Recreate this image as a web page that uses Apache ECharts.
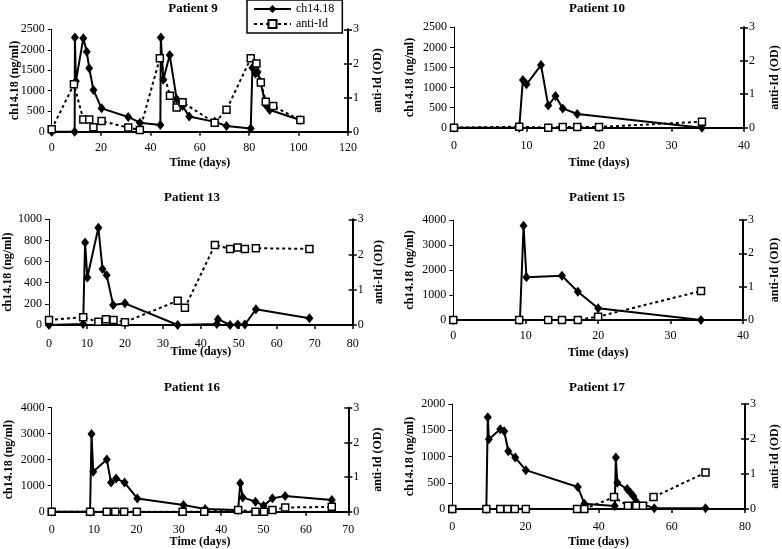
<!DOCTYPE html>
<html><head><meta charset="utf-8">
<script src="https://cdn.jsdelivr.net/npm/echarts@6/dist/echarts.min.js"></script>
<style>html,body{margin:0;padding:0;background:#fff}#c{width:782px;height:549px}</style>
</head><body><div id="c"></div>
<script>
// ---- data ----
const p9ChDays   = [0, 9.3, 9.4, 9.8, 12.8, 14.2, 15.2, 16.9, 20.2, 31, 35.7, 44.0, 44.2, 45.2, 47.8, 50.6, 53, 55.7, 66, 70.8, 80.6, 81.3, 82.5, 83.4, 84.5, 86.7, 88.3, 100.7];
const p9Ch       = [0, 0, 2300, 1230, 2280, 1950, 1550, 1020, 570, 360, 220, 165, 2300, 1270, 1870, 800, 630, 370, 240, 140, 80, 1560, 1420, 1460, 1220, 650, 530, 285];
const p9AntiDays = [0, 9, 12.8, 15.2, 16.9, 20.2, 31, 35.7, 43.8, 47.9, 50.6, 53, 66, 70.8, 80.6, 82.9, 84.7, 86.7, 89.7, 100.7];
const p9Anti     = [0.07, 1.39, 0.36, 0.36, 0.13, 0.31, 0.12, 0.05, 2.15, 1.05, 0.71, 0.86, 0.26, 0.64, 2.15, 2.0, 1.44, 0.88, 0.75, 0.34];

const p10ChDays   = [0, 9, 9.5, 10, 12, 13, 14, 15, 17, 34.2];
const p10Ch       = [0, 0, 1190, 1080, 1560, 550, 790, 480, 340, 0];
const p10AntiDays = [0, 9, 13, 15, 17, 20, 34.2];
const p10Anti     = [0, 0.03, 0, 0.02, 0.02, 0.02, 0.18];

const p13ChDays   = [0, 9, 9.5, 10.1, 13, 14.1, 15.2, 16.9, 20, 33.9, 44.2, 44.5, 47.7, 49.7, 51.6, 54.5, 68.6];
const p13Ch       = [0, 10, 780, 450, 920, 530, 470, 190, 205, 0, 10, 55, 0, 5, 5, 148, 63];
const p13AntiDays = [0, 9, 13, 15, 17, 20, 33.9, 35.8, 43.7, 47.7, 49.7, 51.6, 54.5, 68.6];
const p13Anti     = [0.14, 0.22, 0.09, 0.16, 0.14, 0.08, 0.69, 0.49, 2.27, 2.16, 2.2, 2.16, 2.18, 2.16];

const p15ChDays   = [0, 9.2, 9.7, 10.1, 15, 17.2, 20, 34.2];
const p15Ch       = [0, 0, 3770, 1710, 1770, 1130, 470, 0];
const p15AntiDays = [0, 9.1, 13.1, 15, 17.2, 20, 34.2];
const p15Anti     = [0, 0, 0, 0, 0, 0.1, 0.87];

const p16ChDays   = [0, 9.05, 9.4, 9.8, 13, 14, 15.2, 17.2, 20.2, 31.1, 36.2, 44, 44.5, 45.1, 48.1, 50, 52.1, 55.1, 66.1];
const p16Ch       = [0, 0, 2990, 1540, 2010, 1120, 1280, 1120, 510, 256, 103, 64, 1090, 550, 385, 230, 513, 603, 449];
const p16AntiDays = [0, 9.05, 13, 15, 17.1, 20.1, 30.9, 36, 44, 48.1, 50.1, 52.1, 55.1, 66.1];
const p16Anti     = [0, 0, 0, 0, 0, 0, 0, 0, 0.05, 0, 0, 0.05, 0.12, 0.14];

const p17ChDays   = [0, 9.3, 9.7, 10, 13.1, 14.2, 15.3, 17.2, 20.1, 34.3, 36.1, 44.4, 44.7, 45.1, 47.8, 48.7, 49.5, 50.3, 55.2, 69.2];
const p17Ch       = [0, 0, 1750, 1330, 1520, 1480, 1100, 980, 740, 420, 100, 55, 980, 500, 380, 310, 245, 140, 12, 12];
const p17AntiDays = [0, 9.3, 13.1, 15.1, 17.1, 20.1, 34.1, 36.1, 44.2, 48, 50.3, 52.1, 55, 69.2];
const p17Anti     = [0, 0, 0, 0, 0, 0, 0, 0, 0.34, 0.09, 0.09, 0.09, 0.34, 1.04];

const titles   = ['Patient 9', 'Patient 10', 'Patient 13', 'Patient 15', 'Patient 16', 'Patient 17'];
const xMaxes   = [120, 40, 80, 40, 70, 80];
const xSteps   = [20, 10, 10, 10, 10, 20];
const chMaxes  = [2500, 2500, 1000, 4000, 4000, 2000];
const chSteps  = [500, 500, 200, 1000, 1000, 500];
const antiMax  = 3, antiStep = 1;
const seriesNames = ['ch14.18', 'anti-Id'];
const xName = 'Time (days)', chName = 'ch14.18 (ng/ml)', antiName = 'anti-Id (OD)';

const chDays = [p9ChDays, p10ChDays, p13ChDays, p15ChDays, p16ChDays, p17ChDays];
const chVals = [p9Ch, p10Ch, p13Ch, p15Ch, p16Ch, p17Ch];
const anDays = [p9AntiDays, p10AntiDays, p13AntiDays, p15AntiDays, p16AntiDays, p17AntiDays];
const anVals = [p9Anti, p10Anti, p13Anti, p15Anti, p16Anti, p17Anti];

// ---- layout ----
const layout = [
  {l:51.7, t:29.3, w:296.3, h:102.4, tx:193, ty:2,   xm:10, xg:25, lg:31, rg:24},
  {l:454,  t:27.3, w:292,   h:100.4, tx:597, ty:2,   xm:12, xg:29, lg:38, rg:25},
  {l:49,   t:219.3,w:303.7, h:105.7, tx:192, ty:191, xm:13, xg:21, lg:35, rg:20},
  {l:453.3,t:220,  w:292.7, h:100,   tx:597, ty:191, xm:10, xg:27, lg:37, rg:26},
  {l:51.7, t:407.7,w:296.6, h:104,   tx:192, ty:381, xm:12, xg:24, lg:37, rg:24},
  {l:452.3,t:404,  w:296,   h:106,   tx:597, ty:381, xm:12, xg:27, lg:36, rg:24}
];
const FONT = "'Liberation Serif', 'Times New Roman', serif";
const black = '#000';
const zip = (a, b) => a.map((d, i) => [d, b[i]]);
const plain = v => String(v);

const grid = [], xAxis = [], yAxis = [], series = [], title = [];
layout.forEach((L, i) => {
  grid.push({left: L.l, top: L.t, width: L.w, height: L.h, containLabel: false});
  title.push({text: titles[i], left: L.tx, top: L.ty, textAlign: 'center', padding: 0,
    textStyle: {fontFamily: FONT, fontSize: 13, fontWeight: 'bold', color: black}});
  xAxis.push({gridIndex: i, type: 'value', min: 0, max: xMaxes[i], interval: xSteps[i],
    axisLine: {lineStyle: {color: black, width: 2}},
    axisTick: {length: 4, lineStyle: {color: black, width: 1.5}},
    axisLabel: {color: black, fontFamily: FONT, fontSize: 12, margin: L.xm, formatter: plain},
    splitLine: {show: false},
    name: xName, nameLocation: 'middle', nameGap: L.xg, nameMoveOverlap: false,
    nameTextStyle: {fontFamily: FONT, fontSize: 12, fontWeight: 'bold', color: black}});
  yAxis.push({gridIndex: i, type: 'value', position: 'left', min: 0, max: chMaxes[i], interval: chSteps[i],
    axisLine: {show: true, lineStyle: {color: black, width: 1}},
    axisTick: {show: true, length: 4, lineStyle: {color: black, width: 1}},
    axisLabel: {color: black, fontFamily: FONT, fontSize: 12, margin: 7, formatter: plain},
    splitLine: {show: false},
    name: chName, nameLocation: 'middle', nameRotate: 90, nameGap: L.lg, nameMoveOverlap: false,
    nameTextStyle: {fontFamily: FONT, fontSize: 12, fontWeight: 'bold', color: black}});
  yAxis.push({gridIndex: i, type: 'value', position: 'right', offset: 0, min: 0, max: antiMax, interval: antiStep,
    axisLine: {show: true, lineStyle: {color: black, width: 2}},
    axisTick: {show: true, length: 4, lineStyle: {color: black, width: 1.5}},
    axisLabel: {color: black, fontFamily: FONT, fontSize: 12, margin: 5, formatter: plain},
    splitLine: {show: false},
    name: antiName, nameLocation: 'middle', nameRotate: 90, nameGap: L.rg, nameMoveOverlap: false,
    nameTextStyle: {fontFamily: FONT, fontSize: 12, fontWeight: 'bold', color: black}});
  yAxis.push({gridIndex: i, type: 'value', position: 'right', offset: 0, min: 0, max: antiMax, interval: antiStep,
    axisLine: {show: false}, axisLabel: {show: false}, splitLine: {show: false},
    axisTick: {show: true, inside: true, length: 4, lineStyle: {color: black, width: 1.5}}});
  series.push({name: seriesNames[0], type: 'line', xAxisIndex: i, yAxisIndex: 3 * i,
    data: zip(chDays[i], chVals[i]), symbol: 'diamond', symbolSize: [8, 10], showAllSymbol: true,
    itemStyle: {color: black}, lineStyle: {color: black, width: 2}, z: 2});
  series.push({name: seriesNames[1], type: 'line', xAxisIndex: i, yAxisIndex: 3 * i + 1,
    data: zip(anDays[i], anVals[i]), symbol: 'rect', symbolSize: 7, showAllSymbol: true,
    itemStyle: {color: '#fff', borderColor: black, borderWidth: 1.5},
    lineStyle: {color: black, width: 2, type: [3, 3]}, z: 3});
});

const chart = echarts.init(document.getElementById('c'), null, {renderer: 'canvas'});
chart.setOption({
  animation: false,
  backgroundColor: '#fff',
  title, grid, xAxis, yAxis, series,
  legend: {data: seriesNames, orient: 'vertical', left: 247, top: 0,
    itemWidth: 37, itemHeight: 10, itemGap: 3, padding: [3, 8, 3, 6],
    borderColor: black, borderWidth: 1.5,
    textStyle: {fontFamily: FONT, fontSize: 12, color: black}}
});
</script></body></html>
